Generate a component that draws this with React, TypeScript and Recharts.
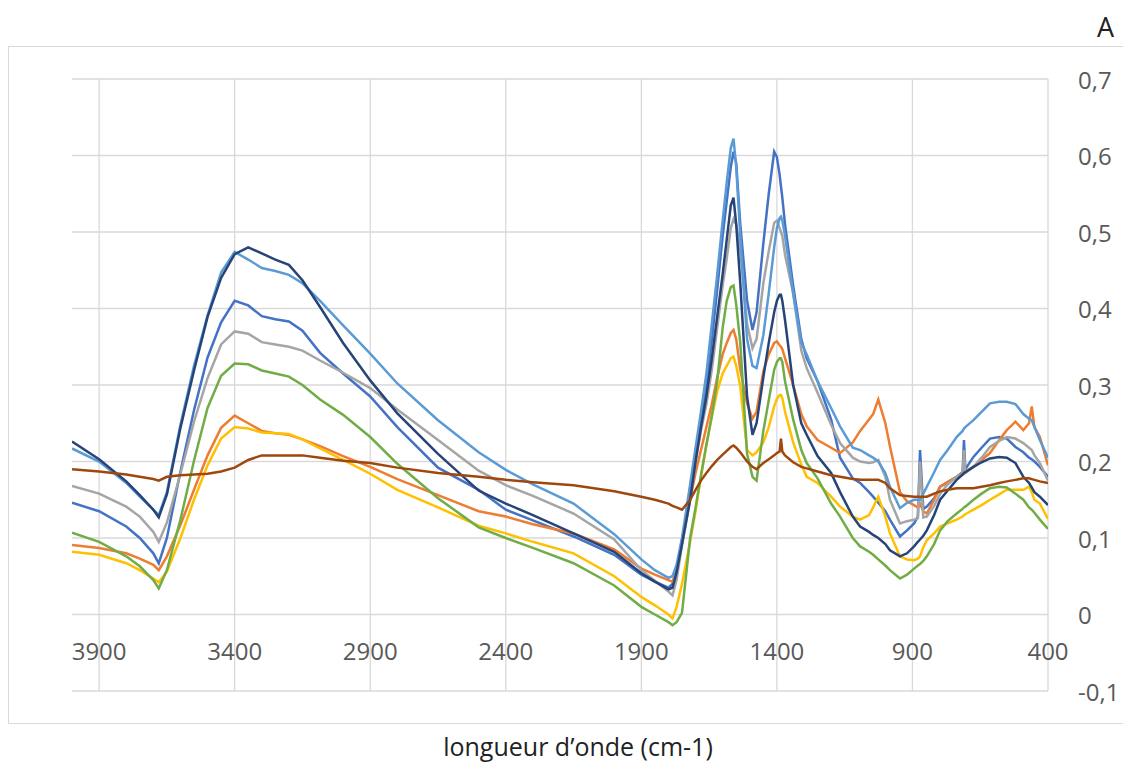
import { LineChart, Line, XAxis, YAxis, CartesianGrid, ReferenceLine } from "recharts";

// wave numbers (cm-1) shared by all spectra
const wavenumbers = [
  4000, 3900, 3800, 3750, 3700, 3680, 3650, 3600, 3550, 3500,
  3450, 3400, 3350, 3300, 3250, 3200, 3150, 3085, 3000, 2900,
  2800, 2650, 2500, 2400, 2300, 2150, 2000, 1900, 1850, 1800,
  1785, 1770, 1750, 1720, 1700, 1680, 1660, 1640, 1620, 1600,
  1585, 1570, 1560, 1550, 1535, 1510, 1490, 1475, 1450, 1430,
  1410, 1400, 1390, 1385, 1380, 1370, 1340, 1310, 1290, 1250,
  1200, 1167, 1120, 1093, 1060, 1045, 1026, 1000, 983, 946,
  920, 894, 880, 872, 860, 847, 820, 798, 770, 737,
  715, 710, 705, 675, 645, 614, 580, 552, 520, 491,
  470, 460, 450, 430, 400,
];

const blue = [
  0.146, 0.135, 0.115, 0.1, 0.08, 0.067, 0.1, 0.187, 0.267, 0.336,
  0.382, 0.41, 0.404, 0.39, 0.386, 0.383, 0.371, 0.342, 0.315, 0.285,
  0.245, 0.192, 0.163, 0.137, 0.123, 0.102, 0.078, 0.052, 0.043, 0.035,
  0.04, 0.06, 0.095, 0.165, 0.21, 0.255, 0.298, 0.36, 0.425, 0.495,
  0.54, 0.585, 0.605, 0.59, 0.51, 0.41, 0.372, 0.395, 0.485, 0.55,
  0.605, 0.598, 0.575, 0.56, 0.545, 0.51, 0.43, 0.36, 0.335, 0.305,
  0.255, 0.205, 0.178, 0.172, 0.16, 0.154, 0.146, 0.135, 0.124, 0.102,
  0.11, 0.119, 0.128, 0.215, 0.138, 0.141, 0.152, 0.167, 0.173, 0.18,
  0.186, 0.228, 0.19, 0.206, 0.218, 0.23, 0.232, 0.23, 0.219, 0.212,
  0.205, 0.203, 0.2, 0.193, 0.18,
];

const orange = [
  0.091, 0.087, 0.08, 0.073, 0.065, 0.058, 0.076, 0.117, 0.163, 0.208,
  0.244, 0.26, 0.25, 0.24, 0.237, 0.235, 0.229, 0.22, 0.207, 0.193,
  0.177, 0.156, 0.135, 0.128, 0.118, 0.106, 0.085, 0.06, 0.052, 0.045,
  0.043, 0.055, 0.098, 0.15, 0.185, 0.215, 0.245, 0.275, 0.31, 0.34,
  0.355, 0.368, 0.372, 0.36, 0.32, 0.276, 0.256, 0.265, 0.318, 0.34,
  0.355, 0.357, 0.352, 0.35, 0.347, 0.335, 0.3, 0.262, 0.246, 0.228,
  0.218, 0.211, 0.225, 0.24, 0.255, 0.262, 0.281, 0.25, 0.22, 0.16,
  0.148, 0.143, 0.14, 0.145, 0.135, 0.132, 0.15, 0.167, 0.173, 0.18,
  0.185, 0.186, 0.187, 0.193, 0.202, 0.211, 0.228, 0.241, 0.252, 0.241,
  0.25, 0.272, 0.245, 0.232, 0.195,
];

const gray = [
  0.168, 0.158, 0.141, 0.128, 0.108, 0.095, 0.12, 0.184, 0.252, 0.309,
  0.353, 0.37, 0.367, 0.356, 0.353, 0.35, 0.345, 0.332, 0.316, 0.296,
  0.268, 0.228, 0.188, 0.169, 0.155, 0.132, 0.098, 0.058, 0.044, 0.03,
  0.025, 0.045, 0.09, 0.15, 0.2, 0.24, 0.275, 0.32, 0.375, 0.43,
  0.465, 0.505, 0.517, 0.51, 0.477, 0.38, 0.348, 0.36, 0.433, 0.475,
  0.512, 0.515, 0.505, 0.5, 0.495, 0.47, 0.42, 0.345, 0.322, 0.29,
  0.248, 0.224, 0.205, 0.2, 0.198, 0.199, 0.202, 0.18, 0.15, 0.119,
  0.122, 0.124, 0.126, 0.2, 0.127, 0.128, 0.142, 0.158, 0.17, 0.18,
  0.183, 0.215, 0.185, 0.193, 0.205, 0.219, 0.227, 0.232, 0.23, 0.224,
  0.218, 0.215, 0.208, 0.198, 0.175,
];

const yellow = [
  0.082, 0.078, 0.067, 0.058, 0.047, 0.042, 0.056, 0.1, 0.15, 0.195,
  0.23, 0.245, 0.243, 0.238, 0.237, 0.236, 0.229, 0.217, 0.202, 0.184,
  0.163, 0.14, 0.116, 0.106, 0.095, 0.08, 0.05, 0.023, 0.012, 0.0,
  -0.005, 0.01, 0.04, 0.095, 0.135, 0.18, 0.222, 0.258, 0.292, 0.315,
  0.325, 0.335, 0.337, 0.325, 0.298, 0.215, 0.208, 0.212, 0.225, 0.245,
  0.272, 0.282, 0.287, 0.287, 0.283, 0.265, 0.225, 0.196, 0.18, 0.172,
  0.154, 0.141, 0.128, 0.124, 0.13, 0.14, 0.154, 0.128, 0.106, 0.076,
  0.072, 0.071, 0.073, 0.076, 0.088, 0.097, 0.106, 0.115, 0.119, 0.124,
  0.128, 0.13, 0.131, 0.137, 0.143, 0.15, 0.157, 0.163, 0.163, 0.163,
  0.167, 0.16, 0.15, 0.145, 0.125,
];

const lightBlue = [
  0.217, 0.2, 0.172, 0.154, 0.137, 0.13, 0.16, 0.248, 0.325, 0.391,
  0.447, 0.474, 0.464, 0.453, 0.449, 0.444, 0.433, 0.41, 0.378, 0.341,
  0.302, 0.254, 0.212, 0.189, 0.17, 0.145, 0.105, 0.072, 0.058, 0.048,
  0.05, 0.065, 0.1, 0.17, 0.218, 0.265, 0.315, 0.38, 0.445, 0.515,
  0.565, 0.61, 0.622, 0.585, 0.494, 0.36, 0.325, 0.322, 0.365, 0.42,
  0.48, 0.505, 0.518, 0.52, 0.515, 0.495, 0.42, 0.355, 0.34, 0.305,
  0.27, 0.246, 0.218, 0.215, 0.208, 0.205, 0.2, 0.185, 0.167, 0.139,
  0.146, 0.15, 0.15, 0.15, 0.158, 0.167, 0.186, 0.202, 0.215, 0.232,
  0.24, 0.243, 0.245, 0.254, 0.265, 0.276, 0.278, 0.278, 0.275, 0.262,
  0.256, 0.254, 0.245, 0.228, 0.205,
];

const green = [
  0.107, 0.095, 0.076, 0.063, 0.045, 0.034, 0.058, 0.124, 0.201, 0.27,
  0.312, 0.328, 0.327, 0.319, 0.315, 0.311, 0.3, 0.281, 0.261, 0.232,
  0.197, 0.152, 0.114, 0.1, 0.087, 0.067, 0.038, 0.01, 0.0, -0.01,
  -0.014, -0.01, 0.002, 0.1, 0.14, 0.182, 0.222, 0.26, 0.305, 0.375,
  0.41, 0.428, 0.43, 0.405, 0.355, 0.21, 0.18, 0.175, 0.24, 0.28,
  0.32, 0.33, 0.335, 0.335, 0.33, 0.305, 0.255, 0.215, 0.198, 0.178,
  0.145, 0.128, 0.1, 0.089, 0.082, 0.078, 0.072, 0.064, 0.058, 0.047,
  0.052, 0.06, 0.064, 0.066, 0.07, 0.076, 0.092, 0.11, 0.122, 0.132,
  0.138, 0.14, 0.141, 0.15, 0.158, 0.165, 0.167, 0.166, 0.158, 0.15,
  0.14, 0.137, 0.133, 0.124, 0.112,
];

const darkBlue = [
  0.226, 0.203, 0.174, 0.156, 0.137, 0.127, 0.157, 0.244, 0.319, 0.389,
  0.44, 0.471, 0.48, 0.472, 0.464, 0.457, 0.437, 0.402, 0.355, 0.306,
  0.263, 0.21, 0.162, 0.145, 0.13, 0.106, 0.082, 0.054, 0.043, 0.033,
  0.035, 0.055, 0.092, 0.15, 0.2, 0.245, 0.285, 0.335, 0.39, 0.445,
  0.49, 0.535, 0.545, 0.51, 0.433, 0.285, 0.235, 0.25, 0.31, 0.355,
  0.395, 0.41, 0.418, 0.418, 0.41, 0.385, 0.3, 0.25, 0.235, 0.207,
  0.185, 0.16, 0.128, 0.115, 0.108, 0.104, 0.1, 0.092, 0.084, 0.076,
  0.08, 0.089, 0.095, 0.098, 0.103, 0.11, 0.13, 0.15, 0.162, 0.176,
  0.183, 0.185, 0.186, 0.193, 0.199, 0.204, 0.206, 0.205, 0.198, 0.18,
  0.172, 0.166, 0.16, 0.154, 0.143,
];

const brown = [
  0.19, 0.187, 0.183, 0.18, 0.177, 0.175, 0.18, 0.182, 0.183, 0.184,
  0.187, 0.192, 0.202, 0.208, 0.208, 0.208, 0.208, 0.205, 0.201, 0.198,
  0.192, 0.185, 0.18, 0.176, 0.173, 0.169, 0.161, 0.154, 0.15, 0.145,
  0.142, 0.14, 0.137, 0.15, 0.163, 0.175, 0.185, 0.194, 0.202, 0.209,
  0.214, 0.219, 0.221, 0.218, 0.212, 0.2, 0.193, 0.19, 0.198, 0.203,
  0.208, 0.211, 0.213, 0.23, 0.213, 0.208, 0.199, 0.193, 0.191, 0.187,
  0.182, 0.18, 0.177, 0.176, 0.176, 0.176, 0.176, 0.172, 0.165, 0.156,
  0.155, 0.154, 0.154, 0.154, 0.154, 0.154, 0.158, 0.161, 0.163, 0.165,
  0.165, 0.165, 0.165, 0.165, 0.167, 0.169, 0.172, 0.174, 0.176, 0.178,
  0.178, 0.177, 0.176, 0.174, 0.172,
];

const xTicks = [3900, 3400, 2900, 2400, 1900, 1400, 900, 400];
const yTicks = [-0.1, 0, 0.1, 0.2, 0.3, 0.4, 0.5, 0.6, 0.7];

// Excel series order, last one drawn on top
const series = [
  { key: "blue", values: blue, color: "#4472C4" },
  { key: "orange", values: orange, color: "#ED7D31" },
  { key: "gray", values: gray, color: "#A5A5A5" },
  { key: "yellow", values: yellow, color: "#FFC000" },
  { key: "lightBlue", values: lightBlue, color: "#5B9BD5" },
  { key: "green", values: green, color: "#70AD47" },
  { key: "darkBlue", values: darkBlue, color: "#264478" },
  { key: "brown", values: brown, color: "#9E480E" },
];

const data = wavenumbers.map((wn, i) => {
  const row: Record<string, number> = { wn };
  series.forEach((s) => {
    row[s.key] = s.values[i];
  });
  return row;
});

const FONT = "'Open Sans', sans-serif";
const TEXT = "#595959";
const GRID = "#d9d9d9";

const formatY = (v: number) => (v === 0 ? "0" : v.toFixed(1).replace(".", ","));

// x labels sit just under the zero line, like the Excel axis crossing at 0
const XTick = (props: any) => {
  const { x, y, payload } = props;
  return (
    <text
      x={x}
      y={y}
      dy={-31}
      textAnchor="middle"
      fill={TEXT}
      fontSize={24}
      fontFamily={FONT}
    >
      {payload.value}
    </text>
  );
};

const App = () => {
  return (
    <div style={{ position: "relative", width: 1123, height: 756, fontFamily: FONT }}>
      <div
        style={{
          position: "absolute",
          left: 0,
          top: 38,
          width: 1123,
          height: 678,
          boxSizing: "border-box",
          border: "1px solid " + GRID,
        }}
      />
      <div
        style={{
          position: "absolute",
          left: 1089,
          top: 5,
          fontSize: 27,
          lineHeight: "27px",
          color: "#222",
        }}
      >
        A
      </div>
      <div
        style={{
          position: "absolute",
          left: 0,
          width: 1140,
          top: 726,
          textAlign: "center",
          fontSize: 25,
          lineHeight: "25px",
          color: "#222",
        }}
      >
        longueur d’onde (cm-1)
      </div>
      <div style={{ position: "absolute", left: 0, top: 0 }}>
        <LineChart
          width={1123}
          height={740}
          data={data}
          margin={{ top: 71, right: 0, bottom: 27, left: 64 }}
        >
          <CartesianGrid stroke={GRID} strokeWidth={1.3} vertical={false} />
          <XAxis
            dataKey="wn"
            type="number"
            domain={[400, 4000]}
            reversed
            ticks={xTicks}
            interval={0}
            axisLine={false}
            tickLine={false}
            tickSize={0}
            tickMargin={0}
            height={30}
            tick={<XTick />}
            allowDataOverflow
          />
          <YAxis
            orientation="right"
            type="number"
            domain={[-0.1, 0.7]}
            ticks={yTicks}
            interval={0}
            axisLine={false}
            tickLine={false}
            tickSize={0}
            tickMargin={30}
            width={83}
            tickFormatter={formatY}
            tick={{ fill: TEXT, fontSize: 24, fontFamily: FONT, dy: 1 }}
            allowDataOverflow
          />
          {xTicks.map((t) => (
            <ReferenceLine key={t} x={t} stroke={GRID} strokeWidth={1.3} />
          ))}
          {series.map((s) => (
            <Line
              key={s.key}
              dataKey={s.key}
              type="linear"
              stroke={s.color}
              strokeWidth={2.5}
              dot={false}
              activeDot={false}
              isAnimationActive={false}
            />
          ))}
        </LineChart>
      </div>
    </div>
  );
};

export default App;
